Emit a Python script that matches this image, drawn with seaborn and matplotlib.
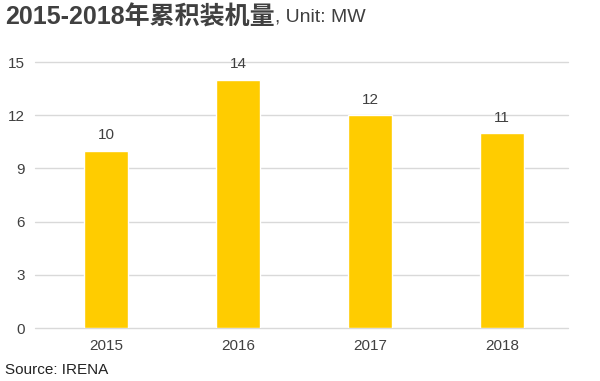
import matplotlib
matplotlib.use('Agg')
import matplotlib.pyplot as plt
import seaborn as sns
import pandas as pd

# data
years = ['2015', '2016', '2017', '2018']
capacity_mw = [10, 14, 12, 11]
y_ticks = [0, 3, 6, 9, 12, 15]

title_bold = '2015-2018年累积装机量'
title_rest = ', Unit: MW'
source_text = 'Source: IRENA'

sns.set_style('white')
plt.rcParams['font.family'] = ['Liberation Sans', 'Noto Sans CJK SC', 'DejaVu Sans']

bar_color = '#FFCC00'
text_color = '#404040'
grid_color = '#D9D9D9'

df = pd.DataFrame({'year': years, 'mw': capacity_mw})

fig = plt.figure(figsize=(6, 3.81), dpi=100)
ax = fig.add_axes([40 / 600, 1 - 328 / 381, 528 / 600, 266 / 381])

sns.barplot(data=df, x='year', y='mw', color=bar_color, width=0.33,
            saturation=1, ax=ax)

ax.set_ylim(0, 15)
ax.set_yticks(y_ticks)
ax.set_xlim(-0.5, len(years) - 0.5)
for t in y_ticks:
    ax.axhline(t, color=grid_color, linewidth=1, zorder=0, xmin=-0.01, clip_on=False)
ax.set_axisbelow(True)
for s in ax.spines.values():
    s.set_visible(False)
ax.set_xlabel('')
ax.set_ylabel('')
ax.tick_params(axis='both', length=0, labelsize=11, labelcolor=text_color)
ax.tick_params(axis='y', pad=11)
ax.tick_params(axis='x', pad=8)

for c in ax.containers:
    ax.bar_label(c, fmt='%d', padding=6, fontsize=11, color=text_color)

# title: bold part + normal part
t1 = fig.text(5 / 600, 1 - 17 / 381, title_bold, fontsize=18, fontweight='bold',
              color=text_color, va='center', ha='left')
fig.canvas.draw()
bb = t1.get_window_extent()
fig.text(bb.x1 / fig.bbox.width, 1 - 17 / 381, title_rest, fontsize=14,
         color=text_color, va='center', ha='left')

fig.text(5 / 600, 1 - 370 / 381, source_text, fontsize=11, color='#222222',
         va='center', ha='left')

fig.savefig('out.png', dpi=100)
